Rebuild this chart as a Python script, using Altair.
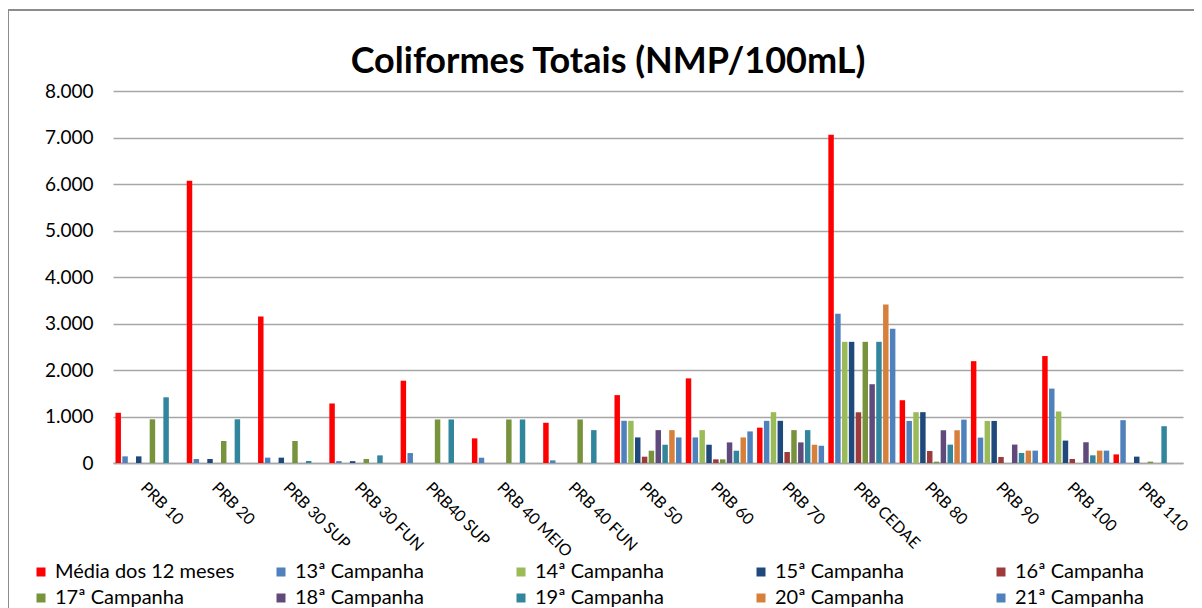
import altair as alt
import pandas as pd

categories = ["PRB 10", "PRB 20", "PRB 30 SUP", "PRB 30 FUN", "PRB40 SUP", "PRB 40 MEIO",
              "PRB 40 FUN", "PRB 50", "PRB 60", "PRB 70", "PRB CEDAE", "PRB 80",
              "PRB 90", "PRB 100", "PRB 110"]

series_names = ["Média dos 12 meses", "13ª Campanha", "14ª Campanha", "15ª Campanha",
                "16ª Campanha", "17ª Campanha", "18ª Campanha", "19ª Campanha",
                "20ª Campanha", "21ª Campanha"]

media = [1080, 6070, 3150, 1280, 1770, 530, 865, 1460, 1820, 760, 7060, 1350, 2190, 2300, 185]
camp13 = [143, 86, 115, 40, 214, 114, 57, 907, 550, 907, 3210, 905, 546, 1600, 921]
camp14 = [0, 0, 0, 0, 0, 0, 0, 907, 707, 1093, 2606, 1093, 905, 1108, 0]
camp15 = [143, 86, 115, 40, 0, 0, 0, 550, 393, 907, 2606, 1093, 905, 482, 137]
camp16 = [0, 0, 0, 0, 0, 0, 0, 136, 79, 236, 1091, 258, 130, 86, 0]
camp17 = [940, 473, 473, 86, 936, 936, 936, 264, 79, 707, 2606, 29, 0, 0, 29]
camp18 = [0, 0, 0, 0, 0, 0, 0, 707, 443, 443, 1694, 704, 396, 446, 0]
camp19 = [1413, 940, 43, 164, 936, 936, 707, 393, 264, 707, 2606, 395, 216, 165, 791]
camp20 = [0, 0, 0, 0, 0, 0, 0, 707, 550, 393, 3410, 704, 266, 266, 0]
camp21 = [0, 0, 0, 0, 0, 0, 0, 550, 679, 371, 2886, 933, 266, 266, 0]

colors = ["#ff0000", "#4f81bd", "#9bbb59", "#1f497d", "#9c3b39",
          "#77933c", "#604a7b", "#31859c", "#d6803c", "#4f81bd"]

y_ticks = [0, 1000, 2000, 3000, 4000, 5000, 6000, 7000, 8000]

title_text = ["Coliformes Totais (NMP/100mL)"]

all_series = [media, camp13, camp14, camp15, camp16, camp17, camp18, camp19, camp20, camp21]
rows = []
for name, vals in zip(series_names, all_series):
    for cat, v in zip(categories, vals):
        rows.append({"Ponto": cat, "Serie": name, "Valor": v})
df = pd.DataFrame(rows)

FONT = "Lato"

bars = alt.Chart(df).mark_bar().encode(
    x=alt.X("Ponto:N", sort=categories,
            scale=alt.Scale(paddingInner=0.05, paddingOuter=0.03),
            axis=alt.Axis(title=None, labelAngle=45, labelAlign="left", labelBaseline="top",
                          labelFontSize=16, labelPadding=16, ticks=False,
                          domainColor="#a6a6a6", domainWidth=1.5, labelColor="#000000",
                          labelFont=FONT)),
    xOffset=alt.XOffset("Serie:N", sort=series_names,
                        scale=alt.Scale(paddingInner=0.2, paddingOuter=0.05)),
    y=alt.Y("Valor:Q", scale=alt.Scale(domain=[0, 8000], nice=False),
            axis=alt.Axis(title=None, values=y_ticks, domain=False, ticks=False,
                          labelPadding=20, labelFontSize=19, labelColor="#000000",
                          labelFont=FONT, gridColor="#a6a6a6", gridWidth=1.5,
                          labelExpr="datum.value == 0 ? '0' : replace(format(datum.value, ','), ',', '.')")),
    color=alt.Color("Serie:N", sort=series_names,
                    scale=alt.Scale(domain=series_names, range=colors),
                    legend=alt.Legend(title=None, orient="none", legendX=-82, legendY=471,
                                      direction="horizontal",
                                      columns=5, symbolType="square", symbolSize=81,
                                      symbolStrokeWidth=0, labelFontSize=20, labelFont=FONT,
                                      labelColor="#000000", gridAlign="all",
                                      columnPadding=36, rowPadding=6, labelOffset=4,
                                      labelLimit=400))
)

border = alt.Chart(pd.DataFrame({"a": [0]})).mark_rect(
    fill="transparent", stroke="#8c8c8c", strokeWidth=2
).encode(
    x=alt.value(-105), x2=alt.value(1200), y=alt.value(-81), y2=alt.value(700)
)

title = alt.Chart(pd.DataFrame({"t": title_text})).mark_text(
    font=FONT, fontSize=36, fontWeight="bold", color="#000000",
    align="center", baseline="alphabetic"
).encode(
    text="t:N", x=alt.value(495), y=alt.value(-18)
)

chart = alt.layer(border, title, bars).properties(
    width=1070, height=372,
    autosize=alt.AutoSizeParams(type="none"),
    padding={"left": 105, "top": 83, "right": 11, "bottom": 145}
).configure_view(stroke=None)

chart.save("out.html", embed_options={"renderer": "svg", "actions": False})
